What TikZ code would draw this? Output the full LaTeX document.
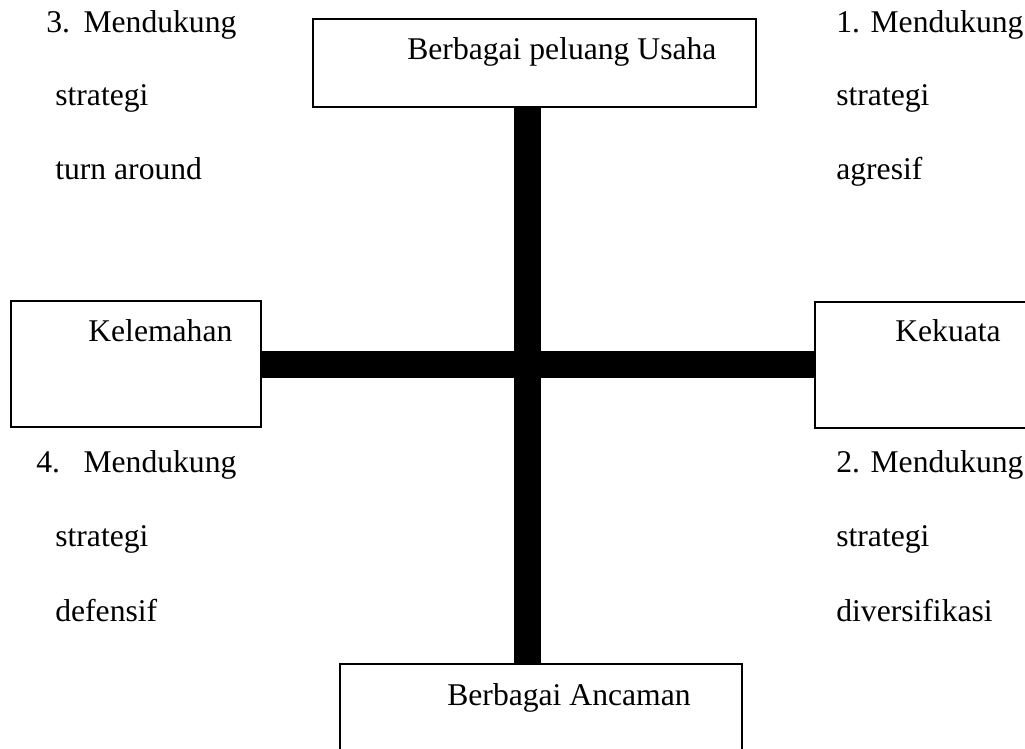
\documentclass[tikz,border=0pt]{standalone}
\usepackage{fontspec}
\setmainfont{Liberation Serif}
\usepackage{tikz}
\usetikzlibrary{positioning}

\begin{document}
\begin{tikzpicture}[x=0.02cm, y=-0.02cm,
    kotak/.style={draw, line width=0.8pt, inner sep=0pt},
    tulisan/.style={anchor=base west, inner sep=0pt, font=\fontsize{18}{22}\selectfont},
    batang/.style={line width=0.54cm}]
    % Frame of the picture
    \useasboundingbox (0,0) rectangle (1025,749);
    \clip (0,0) rectangle (1025,749);

    % Draw boxes
    \node[kotak, minimum width=8.86cm, minimum height=1.76cm] (peluang) at (534.5,63) {};
    \node[kotak, minimum width=5cm, minimum height=2.52cm] (kelemahan) at (136,364) {};
    \node[kotak, minimum width=5cm, minimum height=2.52cm] (kekuatan) at (940,365) {};
    \node[kotak, minimum width=8.04cm, minimum height=1.76cm] (ancaman) at (541,708) {};

    % Texts in the boxes
    \node[tulisan] (tpeluang) at (407,60) {Berbagai peluang Usaha};
    \node[tulisan] (tkelemahan) at (88,342) {Kelemahan};
    \node[tulisan] (tkekuatan) at (895,342) {Kekuata};
    \node[tulisan] (tancaman) at (447,705) {Berbagai Ancaman};

    % Draw the cross
    \coordinate (pusat) at (527.5,364.5);
    \draw[batang] (pusat |- peluang.south) -- (pusat |- ancaman.north);
    \draw[batang] (kelemahan.east |- pusat) -- (kekuatan.west |- pusat);

    % Quadrant texts on the left
    \foreach \x/\y/\teks/\nama in {46/33/{3.\hspace{0.27cm}Mendukung}/kiriatasa, 55/106/strategi/kiriatasb, 55/180/turn around/kiriatasc,
        36/473/{4.\hspace{0.47cm}Mendukung}/kiribawaha, 55/547/strategi/kiribawahb, 55/622/defensif/kiribawahc} {
      \node[tulisan] (\nama) at (\x,\y) {\teks};
    }

    % Quadrant texts on the right
    \foreach \y/\teks/\nama in {33/1. Mendukung/kananatasa, 106/strategi/kananatasb, 180/agresif/kananatasc,
        473/2. Mendukung/kananbawaha, 547/strategi/kananbawahb, 622/diversifikasi/kananbawahc} {
      \node[tulisan] (\nama) at (836,\y) {\teks};
    }
\end{tikzpicture}
\end{document}
